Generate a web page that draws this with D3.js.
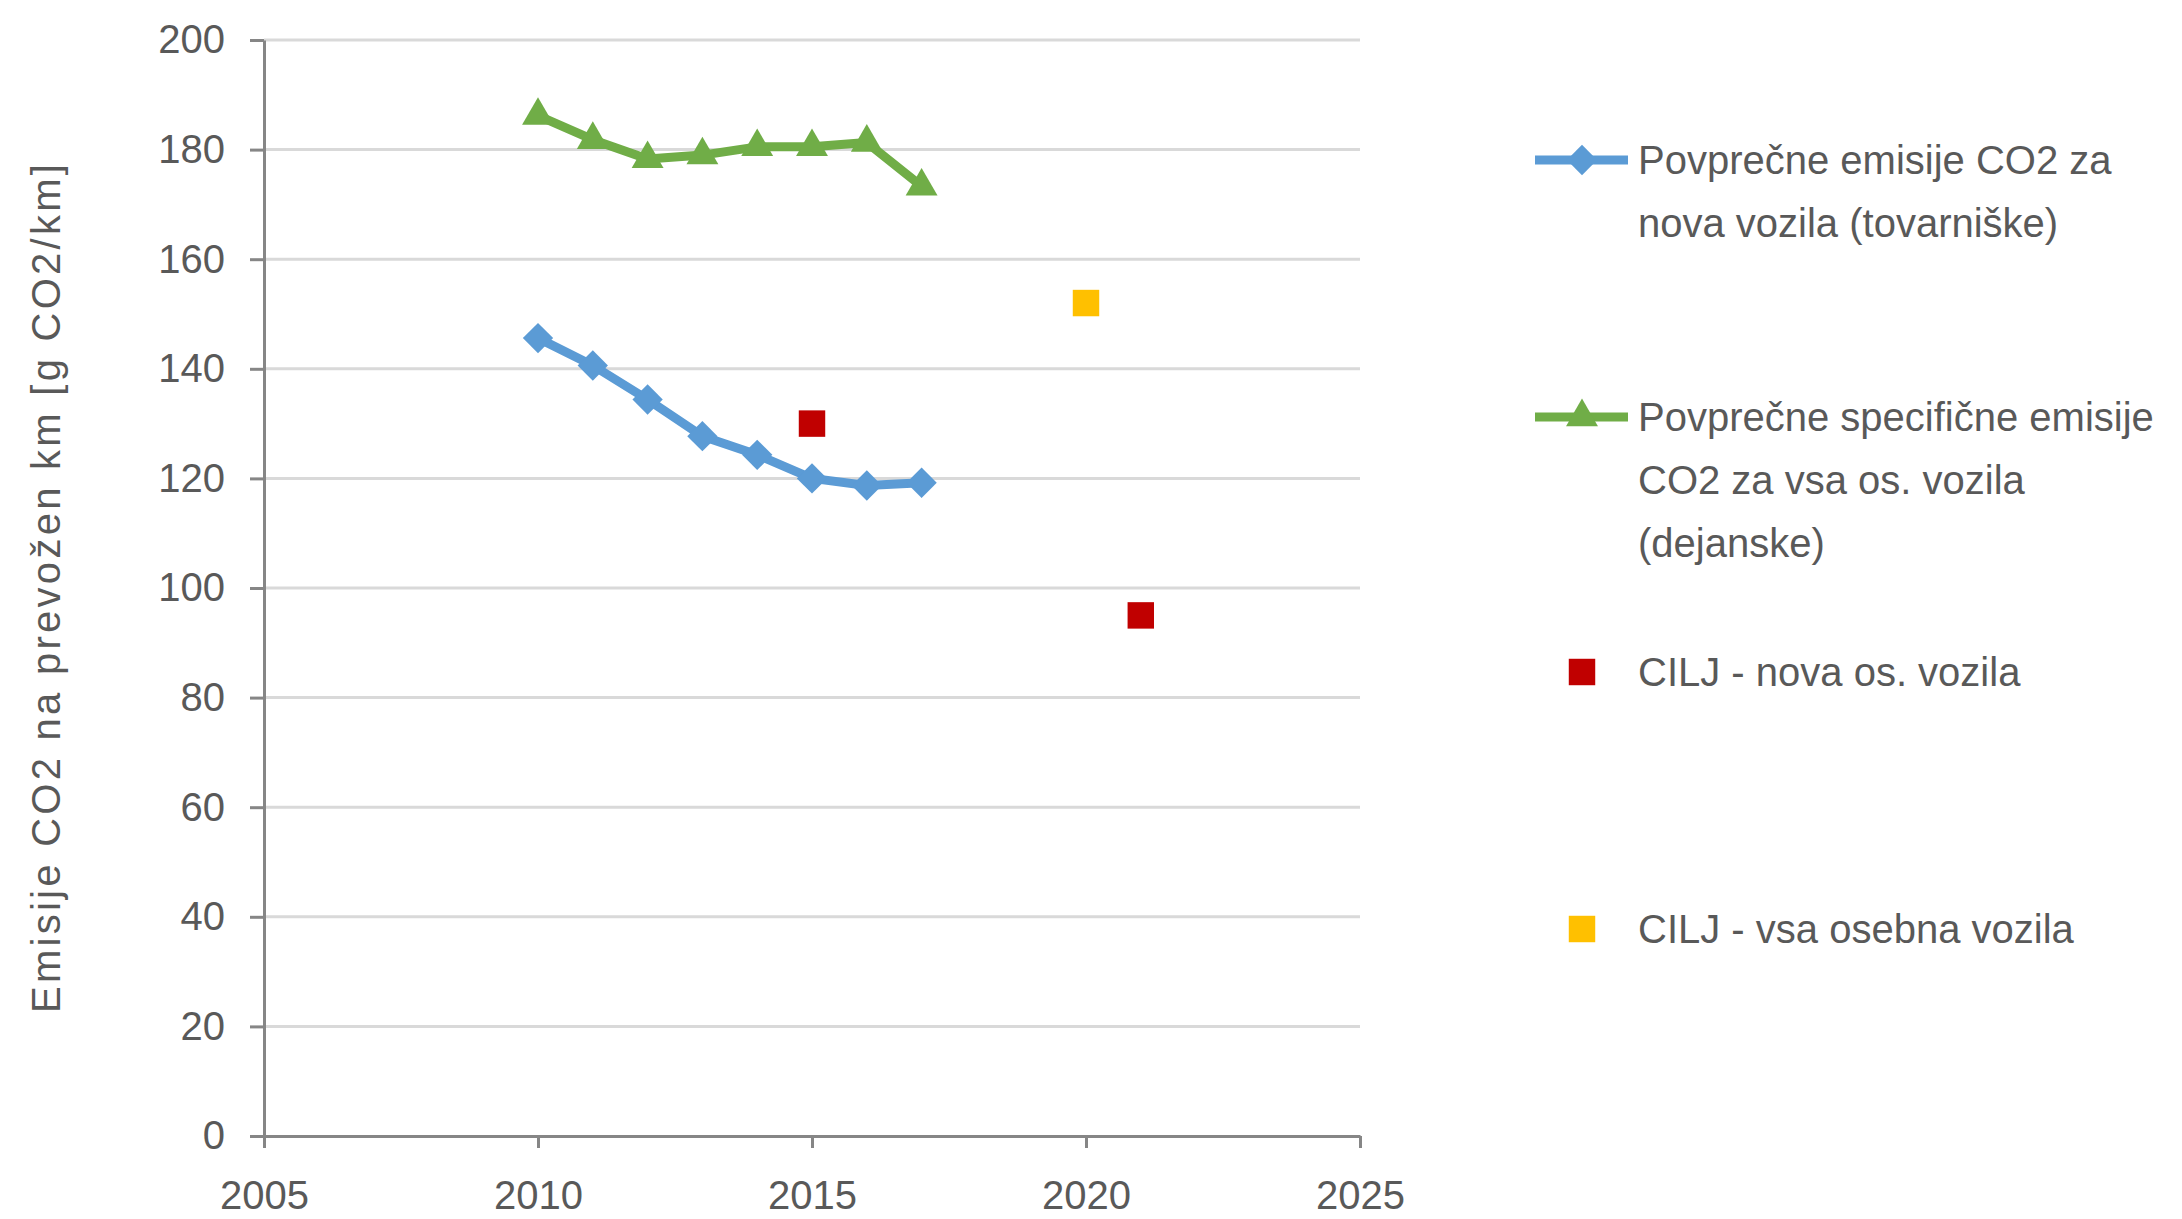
<!DOCTYPE html>
<html>
<head>
<meta charset="utf-8">
<script src="https://cdn.jsdelivr.net/npm/d3@7"></script>
<style>
  body { margin: 0; background: #fff; }
  text { font-family: "Liberation Sans", Arial, sans-serif; fill: #595959; }
</style>
</head>
<body>
<div id="chart"></div>
<script>
// data
const years = [2010, 2011, 2012, 2013, 2014, 2015, 2016, 2017];
const newCars = [145.6, 140.6, 134.4, 127.7, 124.3, 120.0, 118.7, 119.2];
const allCars = [186.2, 181.8, 178.3, 179.0, 180.5, 180.5, 181.3, 173.3];
const targetNew = [[2015, 130], [2021, 95]];
const targetAll = [[2020, 152]];
const xTicks = [2005, 2010, 2015, 2020, 2025];
const yTicks = [0, 20, 40, 60, 80, 100, 120, 140, 160, 180, 200];

const width = 2182, height = 1219;
const plotLeft = 264, plotRight = 1360, plotTop = 40, plotBottom = 1136;

const svg = d3.select('#chart').append('svg')
    .attr('width', width)
    .attr('height', height);

const x = d3.scaleLinear().domain([2005, 2025]).range([plotLeft, plotRight]);
const y = d3.scaleLinear().domain([0, 200]).range([plotBottom, plotTop]);

// gridlines
svg.append('g')
    .selectAll('line')
    .data(yTicks.filter(d => d > 0))
    .enter()
    .append('line')
    .attr('x1', plotLeft).attr('x2', plotRight)
    .attr('y1', d => y(d)).attr('y2', d => y(d))
    .attr('stroke', '#d9d9d9')
    .attr('stroke-width', 3);

const yAxis = svg.append('g')
    .attr('transform', `translate(${plotLeft},0)`)
    .call(d3.axisLeft(y).tickValues(yTicks).tickSize(14).tickPadding(25).tickSizeOuter(0));

const xAxis = svg.append('g')
    .attr('transform', `translate(0,${plotBottom})`)
    .call(d3.axisBottom(x).tickValues(xTicks).tickFormat(d3.format('d')).tickSize(12).tickPadding(33).tickSizeOuter(0));

[yAxis, xAxis].forEach(a => {
    a.selectAll('path, line').attr('stroke', '#868686').attr('stroke-width', 3);
    a.selectAll('text').style('font-size', '40px').attr('fill', '#595959')
        .style('font-family', '"Liberation Sans", Arial, sans-serif');
});

// y axis title
svg.append('text')
    .attr('transform', `translate(60,${(164 + 1013) / 2}) rotate(-90)`)
    .attr('text-anchor', 'middle')
    .attr('textLength', 849)
    .style('font-size', '40px')
    .text('Emisije CO2 na prevožen km [g CO2/km]');

const line = d3.line()
    .x(d => x(d[0]))
    .y(d => y(d[1]));

const diamond = d3.symbol().type(d3.symbolSquare).size(460);
const triangle = d3.symbol().type(d3.symbolTriangle).size(440);
const square = d3.symbol().type(d3.symbolSquare).size(700);

const blue = '#5b9bd5', green = '#70ad47', red = '#c00000', yellow = '#ffc000';

function drawSeries(vals, color, marker, rotate) {
    const pts = years.map((yr, i) => [yr, vals[i]]);
    svg.append('path')
        .datum(pts)
        .attr('d', line)
        .attr('fill', 'none')
        .attr('stroke', color)
        .attr('stroke-width', 9)
        .attr('stroke-linejoin', 'round');
    svg.append('g')
        .selectAll('path')
        .data(pts)
        .enter()
        .append('path')
        .attr('d', marker)
        .attr('transform', d => `translate(${x(d[0])},${y(d[1])}) rotate(${rotate})`)
        .attr('fill', color);
}

drawSeries(newCars, blue, diamond, 45);
drawSeries(allCars, green, triangle, 0);

function drawPoints(pts, color) {
    svg.append('g')
        .selectAll('path')
        .data(pts)
        .enter()
        .append('path')
        .attr('d', square)
        .attr('transform', d => `translate(${x(d[0])},${y(d[1])})`)
        .attr('fill', color);
}
drawPoints(targetNew, red);
drawPoints(targetAll, yellow);

// legend
const legend = [
    { lines: ['Povprečne emisije CO2 za', 'nova vozila (tovarniške)'], color: blue, marker: diamond, rot: 45, line: true, y: 160 },
    { lines: ['Povprečne specifične emisije', 'CO2 za vsa os. vozila', '(dejanske)'], color: green, marker: triangle, rot: 0, line: true, y: 417 },
    { lines: ['CILJ - nova os. vozila'], color: red, marker: square, rot: 0, line: false, y: 672 },
    { lines: ['CILJ - vsa osebna vozila'], color: yellow, marker: square, rot: 0, line: false, y: 929 }
];

const lg = svg.append('g').selectAll('g')
    .data(legend)
    .enter()
    .append('g')
    .attr('transform', d => `translate(0,${d.y})`);

lg.filter(d => d.line).append('line')
    .attr('x1', 1535).attr('x2', 1628)
    .attr('stroke', d => d.color)
    .attr('stroke-width', 9);

lg.append('path')
    .attr('d', d => d.marker())
    .attr('transform', d => `translate(1582,0) rotate(${d.rot})`)
    .attr('fill', d => d.color);

lg.append('text')
    .attr('x', 1638)
    .style('font-size', '40px')
    .selectAll('tspan')
    .data(d => d.lines)
    .enter()
    .append('tspan')
    .attr('x', 1638)
    .attr('y', (d, i) => i * 63)
    .attr('dy', '0.35em')
    .text(d => d);
</script>
</body>
</html>
